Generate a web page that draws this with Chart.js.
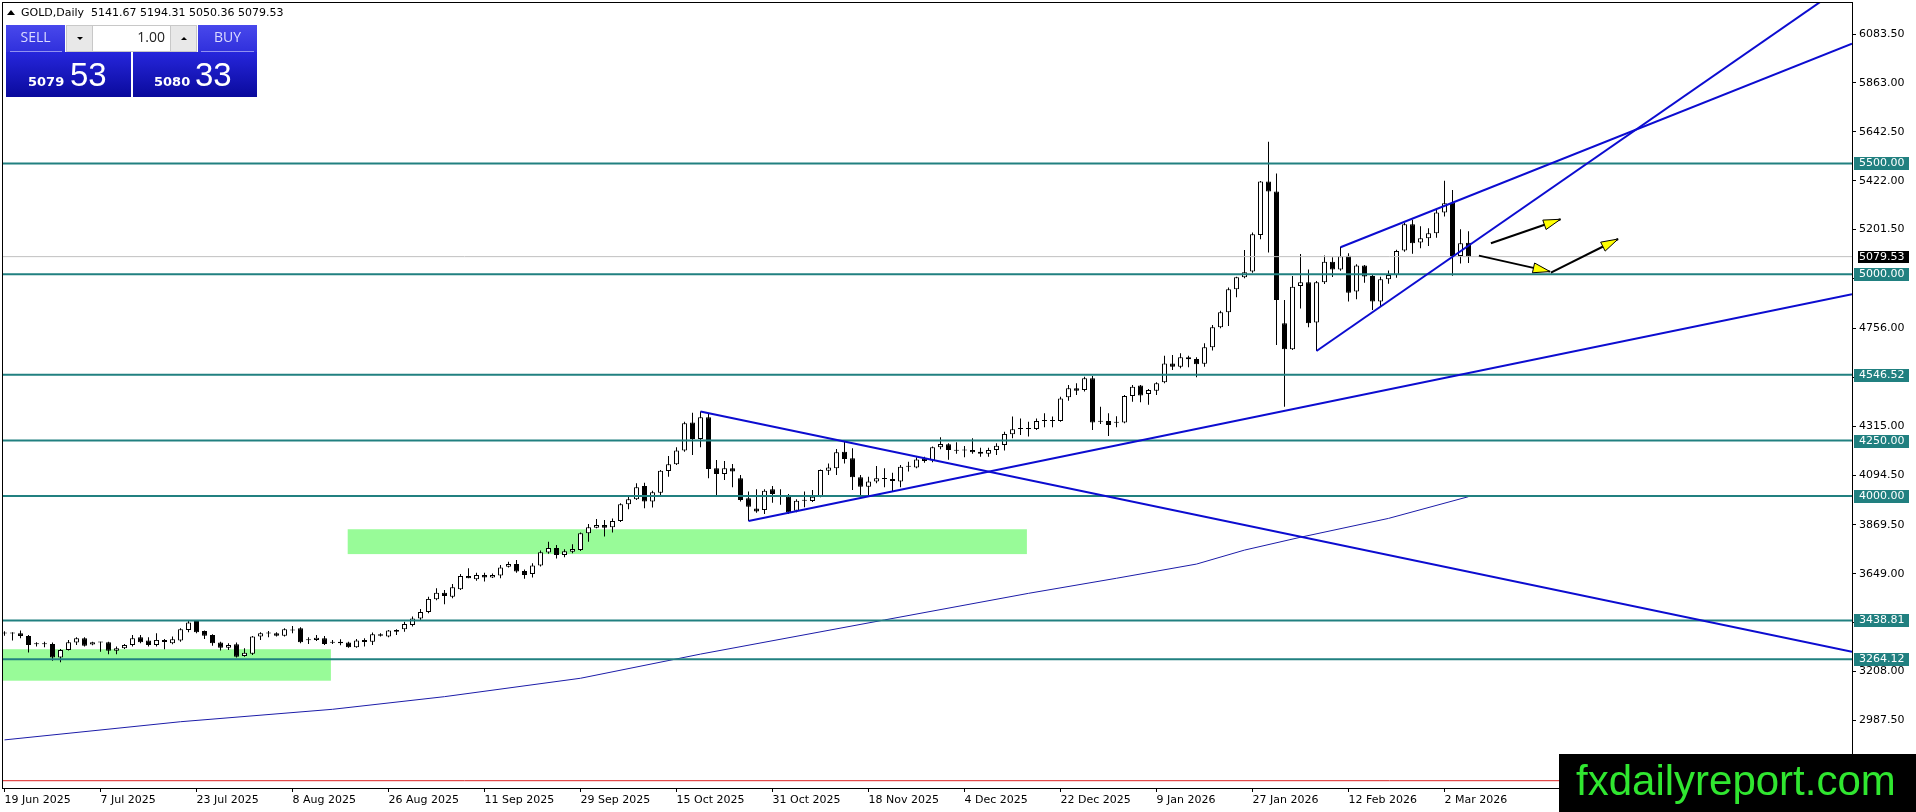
<!DOCTYPE html>
<html>
<head>
<meta charset="utf-8">
<title>GOLD, Daily</title>
<script src="https://cdn.jsdelivr.net/npm/chart.js@4.4.1/dist/chart.umd.min.js"></script>
<style>
  html, body { margin: 0; padding: 0; background: #ffffff; }
  #chart { display: block; }
</style>
</head>
<body>
<canvas id="chart" width="1916" height="812"></canvas>
<script>
// Axis labels (one date label every 12 daily bars)
const xLabels = ['19 Jun 2025', '7 Jul 2025', '23 Jul 2025', '8 Aug 2025', '26 Aug 2025', '11 Sep 2025',
    '29 Sep 2025', '15 Oct 2025', '31 Oct 2025', '18 Nov 2025', '4 Dec 2025', '22 Dec 2025',
    '9 Jan 2026', '27 Jan 2026', '12 Feb 2026', '2 Mar 2026'];
const yTicks = [2987.5, 3208, 3428.5, 3649, 3869.5, 4094.5, 4315, 4535.5, 4756, 4980.5,
    5201.5, 5422, 5642.5, 5863, 6083.5];

// Daily OHLC, bar 0 = 19 Jun 2025
const opens = [
    3382, 3381, 3381, 3369, 3331, 3331, 3333, 3272, 3306, 3339,
    3358, 3330, 3339, 3340, 3302, 3313, 3328, 3363, 3348, 3328,
    3351, 3336, 3348, 3396, 3436, 3391, 3373, 3339, 3316, 3331,
    3278, 3288, 3366, 3380, 3381, 3370, 3393, 3403, 3351, 3351,
    3358, 3339, 3343, 3339, 3318, 3351, 3343, 3376, 3366, 3396,
    3399, 3418, 3447, 3477, 3534, 3564, 3546, 3579, 3639, 3624,
    3644, 3633, 3642, 3681, 3693, 3662, 3648, 3686, 3745, 3766,
    3734, 3749, 3757, 3832, 3857, 3869, 3859, 3887, 3963, 3985,
    4045, 3975, 4015, 4113, 4143, 4205, 4331, 4257, 4355, 4125,
    4099, 4125, 4080, 3990, 3944, 3937, 4030, 4000, 3997, 3934,
    3979, 3978, 3997, 4114, 4125, 4200, 4170, 4084, 4042, 4065,
    4077, 4077, 4065, 4132, 4129, 4170, 4160, 4220, 4233, 4205,
    4205, 4208, 4200, 4190, 4208, 4230, 4278, 4302, 4303, 4302,
    4338, 4338, 4338, 4445, 4486, 4478, 4531, 4335, 4338, 4335,
    4331, 4451, 4498, 4460, 4475, 4513, 4598, 4583, 4626, 4618,
    4596, 4671, 4761, 4829, 4932, 4986, 5012, 5177, 5418, 5373,
    4779, 4662, 4947, 4964, 4782, 4964, 5057, 5022, 5084, 4922,
    5039, 4992, 4877, 4978, 4997, 5107, 5226, 5143, 5162, 5185,
    5279, 5323, 5082, 5141.67];
const highs = [
    3390, 3385, 3393, 3373, 3340, 3343, 3339, 3310, 3351, 3363,
    3363, 3343, 3343, 3343, 3321, 3333, 3373, 3373, 3363, 3381,
    3355, 3366, 3403, 3438, 3441, 3393, 3376, 3343, 3336, 3339,
    3313, 3369, 3385, 3391, 3385, 3403, 3414, 3408, 3363, 3373,
    3369, 3351, 3354, 3343, 3355, 3358, 3384, 3381, 3396, 3399,
    3433, 3456, 3490, 3546, 3584, 3576, 3603, 3648, 3674, 3654,
    3654, 3650, 3689, 3704, 3711, 3669, 3697, 3754, 3794, 3779,
    3760, 3782, 3835, 3874, 3896, 3892, 3899, 3967, 3997, 4057,
    4060, 4024, 4117, 4180, 4220, 4335, 4376, 4381, 4373, 4162,
    4158, 4144, 4095, 4020, 4030, 4030, 4045, 4030, 4009, 3985,
    4020, 4027, 4120, 4147, 4212, 4253, 4215, 4095, 4087, 4135,
    4125, 4105, 4140, 4155, 4175, 4177, 4223, 4265, 4238, 4242,
    4226, 4260, 4218, 4218, 4238, 4290, 4358, 4350, 4335, 4350,
    4373, 4358, 4448, 4501, 4508, 4538, 4541, 4403, 4373, 4360,
    4456, 4501, 4501, 4483, 4513, 4633, 4636, 4644, 4632, 4626,
    4689, 4771, 4836, 4940, 4989, 5110, 5188, 5421, 5598, 5455,
    4884, 4992, 5091, 5022, 4970, 5085, 5077, 5123, 5095, 5045,
    5042, 4997, 4989, 5017, 5111, 5231, 5246, 5216, 5207, 5290,
    5422, 5380, 5203, 5194.31];
const lows = [
    3370, 3348, 3358, 3294, 3321, 3318, 3257, 3250, 3303, 3328,
    3321, 3327, 3298, 3286, 3286, 3310, 3321, 3336, 3321, 3321,
    3309, 3331, 3343, 3385, 3381, 3355, 3325, 3303, 3306, 3272,
    3275, 3283, 3351, 3363, 3366, 3366, 3381, 3336, 3333, 3346,
    3328, 3333, 3327, 3316, 3316, 3321, 3328, 3366, 3363, 3373,
    3388, 3411, 3440, 3471, 3530, 3512, 3539, 3576, 3629, 3618,
    3614, 3630, 3629, 3677, 3654, 3627, 3633, 3682, 3739, 3718,
    3724, 3742, 3752, 3794, 3854, 3817, 3835, 3883, 3940, 3982,
    3945, 3948, 4005, 4087, 4140, 4200, 4185, 4220, 4080, 4000,
    4072, 4039, 3975, 3887, 3925, 3919, 3970, 3960, 3919, 3927,
    3949, 3973, 3994, 4095, 4095, 4147, 4027, 4005, 4005, 4057,
    4039, 4020, 4039, 4110, 4125, 4150, 4152, 4211, 4163, 4190,
    4175, 4190, 4177, 4177, 4185, 4205, 4260, 4275, 4268, 4298,
    4310, 4310, 4335, 4430, 4455, 4471, 4298, 4325, 4271, 4310,
    4328, 4425, 4423, 4411, 4456, 4508, 4568, 4576, 4581, 4535,
    4583, 4656, 4756, 4767, 4896, 4982, 5007, 5158, 5098, 4681,
    4403, 4659, 4846, 4761, 4654, 4956, 4988, 5016, 4877, 4887,
    4962, 4839, 4854, 4957, 4984, 5102, 5093, 5117, 5128, 5165,
    5260, 4993, 5048, 5050.36];
const closes = [
    3380, 3380, 3369, 3328, 3331, 3332, 3272, 3306, 3340, 3358,
    3325, 3340, 3340, 3302, 3313, 3328, 3358, 3340, 3328, 3351,
    3342, 3354, 3399, 3429, 3385, 3370, 3336, 3316, 3328, 3275,
    3293, 3366, 3381, 3381, 3370, 3399, 3394, 3340, 3350, 3361,
    3333, 3338, 3336, 3318, 3348, 3342, 3376, 3370, 3393, 3388,
    3423, 3448, 3477, 3536, 3564, 3549, 3588, 3639, 3629, 3644,
    3633, 3644, 3678, 3693, 3659, 3644, 3686, 3746, 3766, 3734,
    3751, 3761, 3832, 3859, 3869, 3857, 3887, 3963, 3985, 4039,
    3975, 4017, 4114, 4143, 4205, 4328, 4257, 4355, 4122, 4099,
    4125, 4110, 3982, 3952, 3930, 4024, 4009, 3998, 3927, 3979,
    3982, 3997, 4117, 4129, 4197, 4167, 4084, 4042, 4065, 4080,
    4078, 4068, 4132, 4133, 4165, 4158, 4220, 4235, 4208, 4204,
    4206, 4197, 4190, 4208, 4227, 4280, 4301, 4303, 4302, 4338,
    4338, 4339, 4440, 4486, 4475, 4531, 4332, 4336, 4320, 4330,
    4451, 4493, 4453, 4478, 4508, 4598, 4583, 4626, 4617, 4594,
    4671, 4761, 4829, 4932, 4986, 5009, 5180, 5418, 5373, 4884,
    4662, 4944, 4964, 4779, 4964, 5057, 5022, 5081, 4917, 5039,
    4990, 4877, 4978, 4997, 5105, 5226, 5140, 5162, 5185, 5279,
    5320, 5082, 5140, 5079.53];

// Moving average at a few bars
const maBars = [0, 22, 41, 55, 72, 87, 110, 128, 139, 149, 155, 162, 173, 183];
const maValues = [2900, 2982, 3038, 3095, 3178, 3287, 3441, 3561, 3629, 3693, 3756, 3814, 3899, 3997];

// Horizontal levels
const levels = [5500, 5000, 4546.52, 4250, 4000, 3438.81, 3264.12];
const lastPrice = 5079.53;
const redLevel = 2716;

// Trend lines (rays): two anchor points each, in bar / price units
const trendX1 = [87, 93, 167, 164];
const trendY1 = [4381, 3887, 5122, 4654];
const trendX2 = [139.5, 167, 181, 181];
const trendY2 = [3986, 4436, 5323, 5079];

// Yellow-headed arrows
const arrowX1 = [185.8, 184.3, 193.3];
const arrowY1 = [5140, 5084, 5007];
const arrowX2 = [194.5, 193.2, 201.7];
const arrowY2 = [5248, 5012, 5159];

// Green zones
const zoneX1 = [42.9, -3];
const zoneX2 = [127.8, 40.8];
const zoneTop = [3850, 3309];
const zoneBottom = [3738, 3167];

const xMin = -0.3125, xMax = 230.9375;
const yMin = 2683.1, yMax = 6227.9;
const TEAL = '#218080';
const FONT = '"DejaVu Sans"';

const barIdx = opens.map((o, i) => i);

function rayEnd(i) {
    const slope = (trendY2[i] - trendY1[i]) / (trendX2[i] - trendX1[i]);
    return { x: xMax, y: trendY1[i] + slope * (xMax - trendX1[i]) };
}

const datasets = [];

datasets.push({
    type: 'bar',
    label: 'wicks',
    data: barIdx.map(i => ({ x: i, y: [lows[i], highs[i]] })),
    backgroundColor: '#000000',
    borderWidth: 0,
    barThickness: 1,
    grouped: false,
    inflateAmount: 0,
    order: 6
});
datasets.push({
    type: 'bar',
    label: 'bodies',
    data: barIdx.map(i => ({ x: i, y: [opens[i], closes[i]] })),
    backgroundColor: barIdx.map(i => closes[i] >= opens[i] ? '#ffffff' : '#000000'),
    borderColor: '#000000',
    borderWidth: 1,
    borderSkipped: false,
    barThickness: 5,
    minBarLength: 1,
    grouped: false,
    inflateAmount: 0,
    order: 5
});
datasets.push({
    type: 'line',
    label: 'MA',
    data: maBars.map((b, i) => ({ x: b, y: maValues[i] })),
    borderColor: '#1c1ca8',
    borderWidth: 1,
    pointRadius: 0,
    tension: 0,
    order: 4
});
datasets.push({
    type: 'line',
    label: 'price',
    data: [{ x: xMin, y: lastPrice }, { x: xMax, y: lastPrice }],
    borderColor: '#c0c0c0',
    borderWidth: 1,
    pointRadius: 0,
    order: 3
});
datasets.push({
    type: 'line',
    label: 'red',
    data: [{ x: xMin, y: redLevel }, { x: xMax, y: redLevel }],
    borderColor: '#dd2020',
    borderWidth: 1,
    pointRadius: 0,
    order: 3
});
levels.forEach(v => {
    datasets.push({
        type: 'line',
        label: 'level',
        data: [{ x: xMin, y: v }, { x: xMax, y: v }],
        borderColor: TEAL,
        borderWidth: 2,
        pointRadius: 0,
        order: 2
    });
});
trendX1.forEach((x1, i) => {
    datasets.push({
        type: 'line',
        label: 'trend',
        data: [{ x: x1, y: trendY1[i] }, rayEnd(i)],
        borderColor: '#0c0cd0',
        borderWidth: 2,
        pointRadius: 0,
        order: 1
    });
});
arrowX1.forEach((x1, i) => {
    datasets.push({
        type: 'line',
        label: 'arrow',
        data: [{ x: x1, y: arrowY1[i] }, { x: arrowX2[i], y: arrowY2[i] }],
        borderColor: '#000000',
        borderWidth: 2,
        pointRadius: 0,
        order: 0
    });
});

const zonesPlugin = {
    id: 'zones',
    beforeDatasetsDraw(chart) {
        const { ctx, chartArea: a, scales: { x, y } } = chart;
        ctx.save();
        ctx.beginPath();
        ctx.rect(a.left, a.top, a.right - a.left, a.bottom - a.top);
        ctx.clip();
        ctx.fillStyle = '#98fb98';
        zoneX1.forEach((x1, i) => {
            const l = x.getPixelForValue(x1), r = x.getPixelForValue(zoneX2[i]);
            const t = y.getPixelForValue(zoneTop[i]), b = y.getPixelForValue(zoneBottom[i]);
            ctx.fillRect(l, t, r - l, b - t);
        });
        ctx.restore();
    }
};

const arrowHeads = {
    id: 'arrowHeads',
    afterDatasetsDraw(chart) {
        const { ctx, scales: { x, y } } = chart;
        ctx.save();
        arrowX1.forEach((x1, i) => {
            const sx = x.getPixelForValue(x1), sy = y.getPixelForValue(arrowY1[i]);
            const ex = x.getPixelForValue(arrowX2[i]), ey = y.getPixelForValue(arrowY2[i]);
            const a = Math.atan2(ey - sy, ex - sx);
            const len = 17, half = 5;
            const bx = ex - len * Math.cos(a), by = ey - len * Math.sin(a);
            ctx.beginPath();
            ctx.moveTo(ex, ey);
            ctx.lineTo(bx - half * Math.sin(a), by + half * Math.cos(a));
            ctx.lineTo(bx + half * Math.sin(a), by - half * Math.cos(a));
            ctx.closePath();
            ctx.fillStyle = '#ffff00';
            ctx.fill();
            ctx.strokeStyle = '#000000';
            ctx.lineWidth = 1;
            ctx.stroke();
        });
        ctx.restore();
    }
};

function grad(ctx, top, bottom, c1, c2) {
    const g = ctx.createLinearGradient(0, top, 0, bottom);
    g.addColorStop(0, c1);
    g.addColorStop(1, c2);
    return g;
}

function drawPanel(ctx) {
    // big price boxes
    ctx.fillStyle = grad(ctx, 52, 97, '#2626dc', '#0a0a9c');
    ctx.fillRect(6, 52, 125, 45);
    ctx.fillRect(133, 52, 124, 45);
    // SELL / BUY buttons
    ctx.fillStyle = grad(ctx, 25, 52, '#4848ec', '#3030dc');
    ctx.fillRect(6, 25, 59, 27);
    ctx.fillRect(198, 25, 59, 27);
    ctx.fillStyle = '#9090f0';
    ctx.fillRect(10, 51, 52, 1);
    ctx.fillRect(201, 51, 53, 1);
    // lot spinner
    ctx.fillStyle = '#c8c8c8';
    ctx.fillRect(66, 25, 131, 27);
    ctx.fillStyle = '#e8e8e8';
    ctx.fillRect(67, 26, 25, 25);
    ctx.fillRect(171, 26, 25, 25);
    ctx.fillStyle = '#ffffff';
    ctx.fillRect(93, 26, 77, 25);
    ctx.fillStyle = '#000000';
    ctx.beginPath();
    ctx.moveTo(77, 37); ctx.lineTo(83, 37); ctx.lineTo(80, 40); ctx.closePath(); ctx.fill();
    ctx.beginPath();
    ctx.moveTo(181, 40); ctx.lineTo(187, 40); ctx.lineTo(184, 37); ctx.closePath(); ctx.fill();

    ctx.textBaseline = 'middle';
    ctx.font = '14px "Open Sans"';
    ctx.fillStyle = '#222222';
    ctx.textAlign = 'right';
    ctx.fillText('1.00', 165, 38);
    ctx.textAlign = 'center';
    ctx.fillStyle = '#dcdcff';
    ctx.fillText('SELL', 35.5, 38.5);
    ctx.fillText('BUY', 227.5, 38.5);

    ctx.textAlign = 'left';
    ctx.textBaseline = 'alphabetic';
    ctx.fillStyle = '#ffffff';
    ctx.font = 'bold 13px ' + FONT;
    ctx.fillText('5079', 28, 86);
    ctx.fillText('5080', 154, 86);
    ctx.font = '33px "Liberation Sans"';
    ctx.fillText('53', 70, 86);
    ctx.fillText('33', 195, 86);
}

const overlay = {
    id: 'overlay',
    afterDraw(chart) {
        const { ctx, chartArea: a, scales: { y } } = chart;
        ctx.save();
        // chart frame
        ctx.strokeStyle = '#000000';
        ctx.lineWidth = 1;
        ctx.strokeRect(Math.round(a.left) + 0.5, Math.round(a.top) + 0.5,
            Math.round(a.right - a.left), Math.round(a.bottom - a.top));

        // price labels on the axis
        ctx.font = '11px ' + FONT;
        ctx.textBaseline = 'middle';
        ctx.textAlign = 'left';
        levels.forEach(v => {
            const py = y.getPixelForValue(v);
            ctx.fillStyle = TEAL;
            ctx.fillRect(a.right + 2, Math.round(py) - 6, 55, 13);
            ctx.fillStyle = '#ffffff';
            ctx.fillText(v.toFixed(2), a.right + 7, Math.round(py) + 0.5);
        });
        const lp = y.getPixelForValue(lastPrice);
        ctx.fillStyle = '#000000';
        ctx.fillRect(a.right + 6, Math.round(lp) - 6, 51, 12);
        ctx.fillStyle = '#ffffff';
        ctx.fillText(lastPrice.toFixed(2), a.right + 7, Math.round(lp));

        // header
        ctx.fillStyle = '#000000';
        ctx.beginPath();
        ctx.moveTo(7, 15); ctx.lineTo(15, 15); ctx.lineTo(11, 10); ctx.closePath(); ctx.fill();
        ctx.font = '11px ' + FONT;
        ctx.fillText('GOLD,Daily  ' + [opens, highs, lows, closes].map(s => s[s.length - 1].toFixed(2)).join(' '), 21, 13);

        drawPanel(ctx);

        // watermark
        ctx.fillStyle = '#000000';
        ctx.fillRect(1559, 754, 357, 58);
        ctx.fillStyle = '#30e630';
        ctx.font = '42px "Liberation Sans"';
        ctx.textAlign = 'left';
        ctx.textBaseline = 'alphabetic';
        ctx.fillText('fxdailyreport.com', 1576, 795);
        ctx.restore();
    }
};

Chart.defaults.font.family = FONT;
Chart.defaults.font.size = 11;
Chart.defaults.color = '#000000';

new Chart(document.getElementById('chart'), {
    type: 'bar',
    data: { datasets: datasets },
    options: {
        responsive: false,
        animation: false,
        devicePixelRatio: 1,
        events: [],
        layout: { padding: { left: 2, top: 2, right: 0, bottom: 0 }, autoPadding: false },
        plugins: { legend: { display: false }, tooltip: { enabled: false } },
        scales: {
            x: {
                type: 'linear',
                min: xMin,
                max: xMax,
                offset: false,
                afterBuildTicks: s => { s.ticks = xLabels.map((l, i) => ({ value: i * 12 })); },
                afterFit: s => { s.height = 24; s.paddingLeft = 0; s.paddingRight = 0; },
                ticks: {
                    autoSkip: false,
                    maxRotation: 0,
                    align: 'start',
                    padding: 2,
                    callback: (v, i) => xLabels[i]
                },
                grid: { drawOnChartArea: false, offset: false, tickLength: 4, color: '#000000' },
                border: { display: false }
            },
            y: {
                type: 'linear',
                position: 'right',
                min: yMin,
                max: yMax,
                afterBuildTicks: s => { s.ticks = yTicks.map(v => ({ value: v })); },
                afterFit: s => { s.width = 64; s.paddingTop = 0; s.paddingBottom = 0; },
                ticks: { padding: 3, callback: v => Number(v).toFixed(2) },
                grid: { drawOnChartArea: false, tickLength: 4, color: '#000000' },
                border: { display: false }
            }
        }
    },
    plugins: [zonesPlugin, arrowHeads, overlay]
});
</script>
</body>
</html>
